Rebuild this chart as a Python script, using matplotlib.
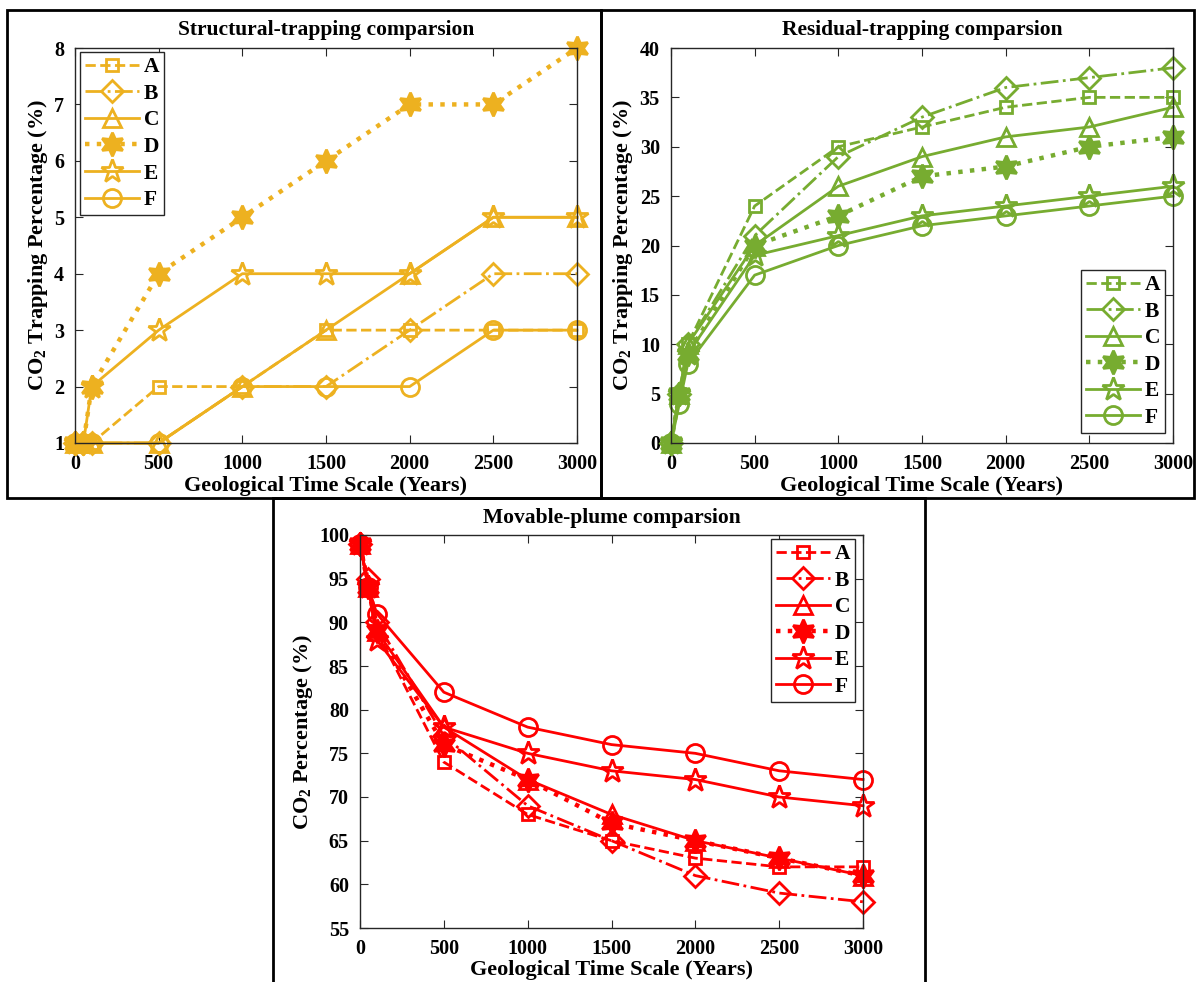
import matplotlib
matplotlib.use("Agg")
from matplotlib import pyplot as plt
from matplotlib.patches import Rectangle

# values
years = [0, 50, 100, 500, 1000, 1500, 2000, 2500, 3000]
names = ["A", "B", "C", "D", "E", "F"]

structural = [
    [1, 1, 1, 2, 2, 3, 3, 3, 3],
    [1, 1, 1, 1, 2, 2, 3, 4, 4],
    [1, 1, 1, 1, 2, 3, 4, 5, 5],
    [1, 1, 2, 4, 5, 6, 7, 7, 8],
    [1, 1, 2, 3, 4, 4, 4, 5, 5],
    [1, 1, 1, 1, 2, 2, 2, 3, 3],
]
residual = [
    [0, 5, 10, 24, 30, 32, 34, 35, 35],
    [0, 5, 10, 21, 29, 33, 36, 37, 38],
    [0, 5, 10, 20, 26, 29, 31, 32, 34],
    [0, 5, 9, 20, 23, 27, 28, 30, 31],
    [0, 5, 9, 19, 21, 23, 24, 25, 26],
    [0, 4, 8, 17, 20, 22, 23, 24, 25],
]
movable = [
    [99, 94, 89, 74, 68, 65, 63, 62, 62],
    [99, 95, 90, 77, 69, 65, 61, 59, 58],
    [99, 94, 89, 78, 72, 68, 65, 63, 61],
    [99, 94, 89, 76, 72, 67, 65, 63, 61],
    [99, 94, 88, 78, 75, 73, 72, 70, 69],
    [99, 94, 91, 82, 78, 76, 75, 73, 72],
]

plt.rcParams['font.family'] = ['Liberation Serif', 'DejaVu Serif']
plt.rcParams['font.weight'] = 'bold'
plt.rcParams['mathtext.fontset'] = 'custom'
plt.rcParams['mathtext.rm'] = 'Liberation Serif:bold'
plt.rcParams['mathtext.default'] = 'rm'

lstyles = ['--', '-.', '-', ':', '-', '-']
mks = ['s', 'D', '^', (6, 1, 0), '*', 'o']
msizes = [9, 11, 13, 17, 17, 13]
filled = [False, False, False, True, False, False]
lwidths = [2, 2, 2, 3.2, 2, 2]

W, H = 1197, 982
fig = plt.figure(figsize=(W / 100, H / 100), dpi=100)


def px_axes(left, top, right, bottom):
    return fig.add_axes([left / W, 1 - bottom / H, (right - left) / W, (bottom - top) / H])


def panel(ax, data, color, title, ylabel, ylim, yticks, legloc, legbox):
    for i in range(len(data)):
        ax.plot(years, data[i], linestyle=lstyles[i], marker=mks[i], ms=msizes[i],
                color=color, lw=lwidths[i], mew=2,
                mfc=color if filled[i] else 'none', clip_on=False, label=names[i])
    ax.set_xlim(0, 3000)
    ax.set_ylim(ylim)
    ax.set_xticks(range(0, 3001, 500))
    ax.set_yticks(yticks)
    ax.tick_params(direction='in', top=True, right=True, labelsize=14.5, length=6,
                   color='#262626', pad=8)
    for s in ax.spines.values():
        s.set_color('#262626')
        s.set_linewidth(1)
    ax.set_title(title, fontsize=15.5, fontweight='bold', pad=9)
    ax.set_xlabel('Geological Time Scale (Years)', fontsize=16, fontweight='bold', labelpad=1)
    ax.set_ylabel(ylabel, fontsize=16, fontweight='bold', labelpad=3)
    leg = ax.legend(loc=legloc, bbox_to_anchor=legbox, fontsize=15.5, handlelength=2.5,
                    handletextpad=0.2, labelspacing=0.3, borderpad=0.25, borderaxespad=0,
                    fancybox=False, edgecolor='#262626', framealpha=1)
    leg.get_frame().set_linewidth(1)


ax1 = px_axes(75, 48, 577, 443)
panel(ax1, structural, '#EDB120', 'Structural-trapping comparsion',
      'CO$_2$ Trapping Percentage (%)', (1, 8), range(1, 9), 'upper left', (0.01, 0.99))

ax2 = px_axes(671, 48, 1173, 443)
panel(ax2, residual, '#77AC30', 'Residual-trapping comparsion',
      'CO$_2$ Trapping Percentage (%)', (0, 40), range(0, 41, 5), 'lower right', (0.985, 0.025))

ax3 = px_axes(360, 535, 863, 928)
panel(ax3, movable, '#FF0000', 'Movable-plume comparsion',
      'CO$_2$ Percentage (%)', (55, 100), range(55, 101, 5), 'upper right', (0.985, 0.99))

# black frames around the three panels
frames = [(7, 10, 601, 498), (601, 10, 1194, 498), (273, 498, 925, 990)]
for l, t, r, b in frames:
    fig.add_artist(Rectangle((l / W, 1 - b / H), (r - l) / W, (b - t) / H,
                             transform=fig.transFigure, fill=False, ec='black', lw=2))

fig.savefig('out.png', dpi=100)
